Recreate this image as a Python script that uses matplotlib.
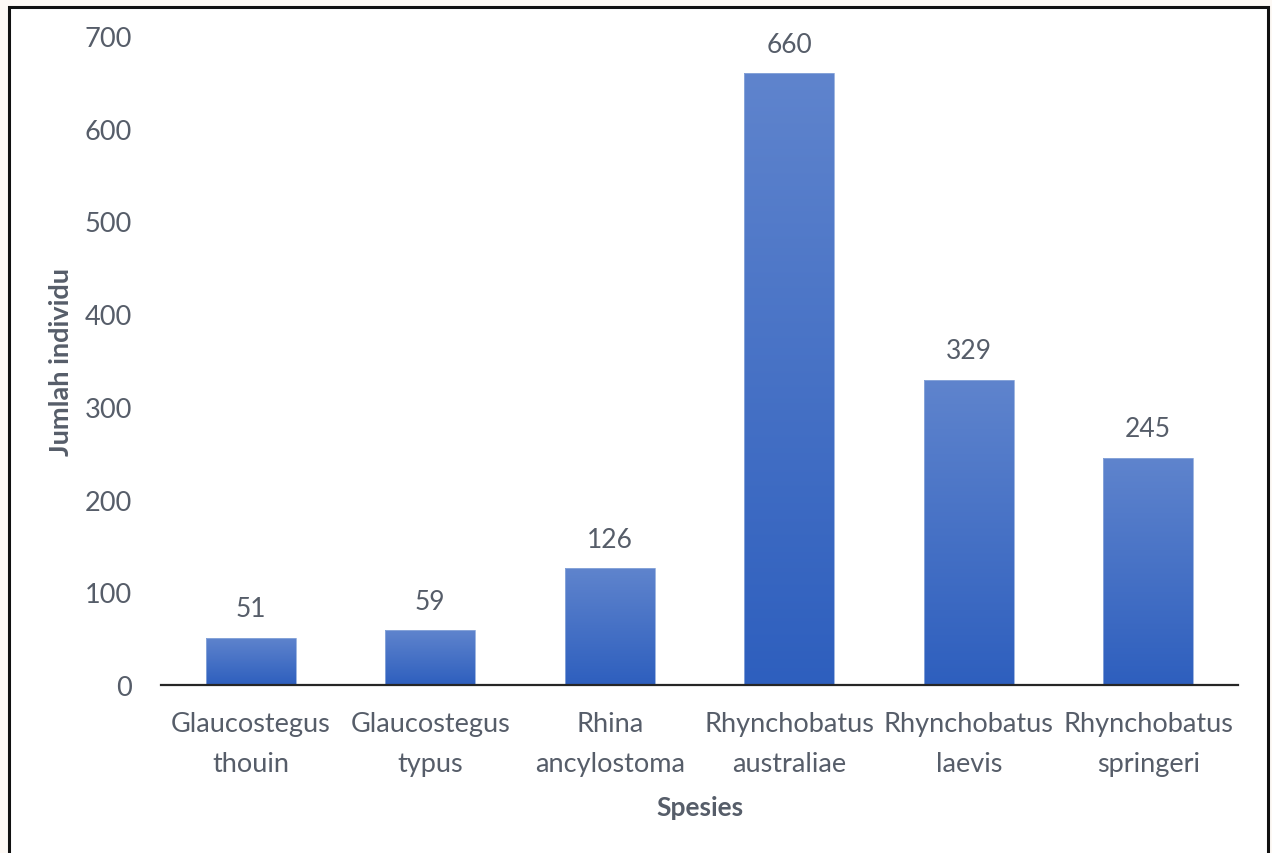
import matplotlib.pyplot as plt
import numpy as np
from matplotlib.patches import Rectangle
from matplotlib.colors import LinearSegmentedColormap

species = ["Glaucostegus\nthouin", "Glaucostegus\ntypus", "Rhina\nancylostoma",
           "Rhynchobatus\naustraliae", "Rhynchobatus\nlaevis", "Rhynchobatus\nspringeri"]
counts = [51, 59, 126, 660, 329, 245]
yticks = [0, 100, 200, 300, 400, 500, 600, 700]

plt.rcParams['font.family'] = ['Lato', 'DejaVu Sans']
grey = '#565d69'

fig = plt.figure(figsize=(12.72, 8.54), dpi=100, facecolor='#fdf9f5')
# white card with dark frame (bottom edge cut off in the original)
fig.patches.append(Rectangle((9 / 1272, -0.05), 1259 / 1272, 1.05 - 8 / 854,
                             transform=fig.transFigure, facecolor='white',
                             edgecolor='#111111', linewidth=2.2, zorder=-10))

ax = fig.add_axes([161 / 1272, 1 - 686 / 854, 1077 / 1272, 649 / 854])
ax.set_facecolor('none')

x = np.arange(len(species))
bars = ax.bar(x, counts, width=0.5, color='none', edgecolor='#8eaadb', linewidth=0.6, zorder=3)

# vertical gradient: lighter on top, darker at the base
cmap = LinearSegmentedColormap.from_list('g', ['#2e5fbe', '#5f84cd'])
grad = np.linspace(0, 1, 256).reshape(-1, 1)
for b in bars:
    im = ax.imshow(grad, cmap=cmap, origin='lower', aspect='auto',
                   extent=[b.get_x(), b.get_x() + b.get_width(), 0, b.get_height()],
                   zorder=2)
    im.set_clip_path(b)

for xi, v in zip(x, counts):
    ax.annotate(str(v), (xi, v), xytext=(0, 29), textcoords='offset pixels',
                ha='center', va='center', fontsize=19, color=grey)

ax.set_xlim(-0.5, len(species) - 0.5)
ax.set_ylim(0, 700)
ax.set_yticks(yticks)
ax.set_xticks(x)
ax.set_xticklabels(species, fontsize=19.5, color=grey, linespacing=1.72)
ax.tick_params(axis='y', length=0, pad=21, labelsize=19.5, labelcolor=grey)
ax.tick_params(axis='x', length=0, pad=19)

for s in ['top', 'right', 'left']:
    ax.spines[s].set_visible(False)
ax.spines['bottom'].set_color('#262626')
ax.spines['bottom'].set_linewidth(1.6)
ax.spines['bottom'].set_zorder(4)

ax.set_ylabel('Jumlah individu', fontsize=19.5, fontweight='bold', color=grey, labelpad=8)
ax.set_xlabel('Spesies', fontsize=19, fontweight='bold', color=grey, labelpad=14)

fig.savefig('out.png', dpi=100, facecolor=fig.get_facecolor())
